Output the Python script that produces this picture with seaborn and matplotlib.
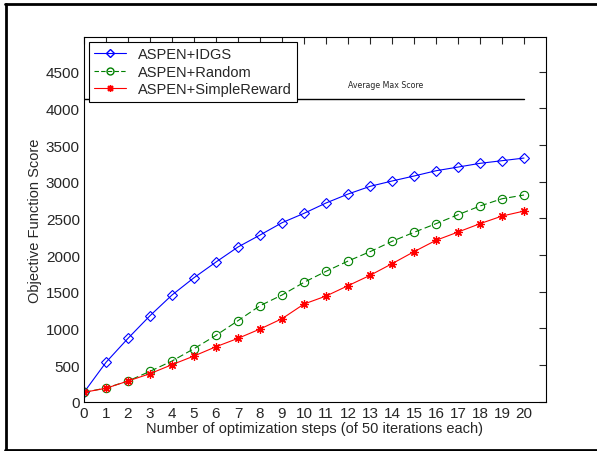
import numpy as np
import pandas as pd
import matplotlib
matplotlib.use("Agg")
import matplotlib.pyplot as plt
import seaborn as sns
from matplotlib.lines import Line2D

steps = list(range(21))
idgs = [128, 537, 864, 1173, 1455, 1691, 1905, 2110, 2273, 2441, 2569,
        2710, 2832, 2937, 3010, 3078, 3150, 3200, 3251, 3287, 3323]
rand = [128, 187, 282, 414, 555, 723, 905, 1105, 1309, 1455, 1628,
        1778, 1918, 2046, 2187, 2310, 2428, 2550, 2669, 2768, 2819]
simple = [128, 183, 282, 382, 505, 623, 750, 864, 991, 1132, 1332,
          1441, 1582, 1723, 1882, 2046, 2201, 2314, 2428, 2532, 2600]
avg_max = 4130
series_names = ["ASPEN+IDGS", "ASPEN+Random", "ASPEN+SimpleReward"]
xticks = list(range(21))
yticks = [0, 500, 1000, 1500, 2000, 2500, 3000, 3500, 4000, 4500]

sns.set_style("white")
plt.rcParams['font.family'] = ['Liberation Sans', 'DejaVu Sans']

fig = plt.figure(figsize=(5.97, 4.52), dpi=100)
ax = fig.add_axes([84/597, 1-402.7/452, (546-84)/597, (402.7-38.3)/452])

df = pd.DataFrame({"step": steps, "idgs": idgs, "rand": rand, "simple": simple})

sns.lineplot(data=df, x="step", y="idgs", ax=ax, color="blue", lw=0.8,
             marker="D", markersize=5, markerfacecolor="none",
             markeredgecolor="blue", markeredgewidth=0.8)
sns.lineplot(data=df, x="step", y="rand", ax=ax, color="green", lw=0.8,
             marker="o", markersize=6, markerfacecolor="none",
             markeredgecolor="green", markeredgewidth=0.8, linestyle=(0, (6, 3)))
sns.lineplot(data=df, x="step", y="simple", ax=ax, color="red", lw=0.8,
             marker=(8, 2, 0), markersize=6, markeredgecolor="red",
             markeredgewidth=0.9)

ax.plot([0, 20], [avg_max, avg_max], color="black", lw=1.0)
ax.text(12.0, 4330, "Average Max Score", fontsize=5.7, family="DejaVu Sans",
        va="center", ha="left")

ax.set_xlim(0, 21)
ax.set_ylim(0, 4970)
ax.set_xticks(xticks)
ax.set_yticks(yticks)
ax.set_xticklabels([str(t) for t in xticks])
ax.set_yticklabels([str(t) for t in yticks])
ax.tick_params(direction="in", top=True, right=True, length=5, width=0.8,
               labelsize=11, pad=3)
for s in ax.spines.values():
    s.set_color("black")
    s.set_linewidth(0.8)
ax.set_xlabel("Number of optimization steps (of 50 iterations each)", fontsize=10.5, labelpad=1)
ax.set_ylabel("Objective Function Score", fontsize=10.5, labelpad=3)

handles = [
    Line2D([], [], color="blue", lw=0.8, marker="D", markersize=4,
           markerfacecolor="none", markeredgecolor="blue"),
    Line2D([], [], color="green", lw=0.8, marker="o", markersize=5,
           markerfacecolor="none", markeredgecolor="green", linestyle=(0, (4, 2))),
    Line2D([], [], color="red", lw=0.8, marker=(8, 2, 0), markersize=5,
           markeredgecolor="red"),
]
leg = ax.legend(handles, series_names, loc="upper left",
                bbox_to_anchor=(0.011, 0.987), borderaxespad=0, fancybox=False,
                edgecolor="black", framealpha=1, fontsize=10.5, handlelength=2.2,
                handletextpad=0.8, labelspacing=0.25, borderpad=0.35)
leg.get_frame().set_linewidth(0.8)

# outer figure frame (left, top, bottom)
fig.add_artist(Line2D([6/597, 6/597], [0, 1-5/452], color="black", lw=2,
                      transform=fig.transFigure))
fig.add_artist(Line2D([5/597, 1], [1-5/452, 1-5/452], color="black", lw=2,
                      transform=fig.transFigure))
fig.add_artist(Line2D([5/597, 1], [1-450.5/452, 1-450.5/452], color="black", lw=2,
                      transform=fig.transFigure))

fig.savefig("out.png", dpi=100)
